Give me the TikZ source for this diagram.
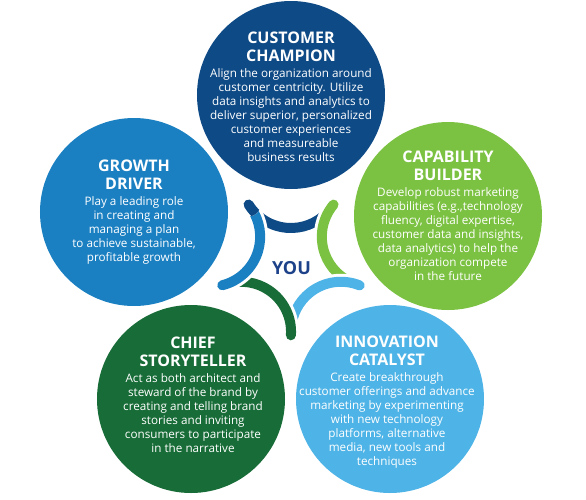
\documentclass[tikz,border=0pt]{standalone}
\usepackage{fontspec}
\setmainfont{Open Sans}
\usetikzlibrary{positioning,calc}
\definecolor{champion}{HTML}{0E4A86}
\definecolor{driver}{HTML}{1B80C2}
\definecolor{builder}{HTML}{7CC242}
\definecolor{storyteller}{HTML}{176C37}
\definecolor{catalyst}{HTML}{4EB3E6}
\definecolor{youblue}{HTML}{1D4289}
\tikzset{
  rolecircle/.style = {circle, inner sep=0pt, minimum size=188pt},
  roletitle/.style = {text=white, align=center, inner sep=0pt, font=\bfseries\fontsize{16}{18}\selectfont},
  roletext/.style = {text=white, align=center, inner sep=0pt, font=\fontsize{11.7}{14}\selectfont},
  ringcasing/.style = {white, line width=16pt, line cap=round},
  ringarc/.style = {line width=10pt, line cap=round},
}
\begin{document}
\begin{tikzpicture}[x=1pt, y=1pt]
\useasboundingbox (-291,-236) rectangle (295,263);

% the five role circles
\node[rolecircle, fill=champion]    (cc) at (0,168)     {};
\node[rolecircle, fill=driver]      (gd) at (-157,51)   {};
\node[rolecircle, fill=builder]     (cb) at (157,47)    {};
\node[rolecircle, fill=storyteller] (cs) at (-100,-136) {};
\node[rolecircle, fill=catalyst]    (ic) at (99,-136)   {};

% arcs round the centre, each one tucked under the next
\foreach \ang/\col in {90/champion, 18/builder, 306/catalyst, 234/storyteller, 162/driver} {
  \draw[ringcasing] (\ang:85) ++(\ang+122:50) arc[start angle=\ang+122, end angle=\ang+232, radius=50];
  \draw[ringarc, \col] (\ang:85) ++(\ang+122:50) arc[start angle=\ang+122, end angle=\ang+232, radius=50];
}
\begin{scope}
  \clip (90:85) ++(212:50) circle (12);
  \draw[ringcasing] (90:85) ++(212:50) arc[start angle=212, end angle=322, radius=50];
  \draw[ringarc, champion] (90:85) ++(212:50) arc[start angle=212, end angle=322, radius=50];
\end{scope}

\node[text=youblue, font=\bfseries\fontsize{18}{20}\selectfont] (you) at (0.5,-5.5) {YOU};

% Customer champion
\node[roletitle] (cc-title) at ($(cc)+(0,48)$) {CUSTOMER\\CHAMPION};
\node[roletext, below=6pt of cc-title] (cc-text) {Align the organization around\\customer centricity. Utilize\\data insights and analytics to\\deliver superior, personalized\\customer experiences\\and measureable\\business results};

% Growth driver
\node[roletitle] (gd-title) at ($(gd)+(0,37)$) {GROWTH\\DRIVER};
\node[roletext, below=6pt of gd-title] (gd-text) {Play a leading role\\in creating and\\managing a plan\\to achieve sustainable,\\profitable growth};

% Capability builder
\node[roletitle] (cb-title) at ($(cb)+(0,50)$) {CAPABILITY\\BUILDER};
\node[roletext, below=6pt of cb-title] (cb-text) {Develop robust marketing\\capabilities (e.g.,technology\\fluency, digital expertise,\\customer data and insights,\\data analytics) to help the\\organization compete\\in the future};

% Chief storyteller
\node[roletitle] (cs-title) at ($(cs)+(2,47)$) {CHIEF\\STORYTELLER};
\node[roletext, below=6pt of cs-title] (cs-text) {Act as both architect and\\steward of the brand by\\creating and telling brand\\stories and inviting\\consumers to participate\\in the narrative};

% Innovation catalyst
\node[roletitle] (ic-title) at ($(ic)+(-3,48)$) {INNOVATION\\CATALYST};
\node[roletext, below=6pt of ic-title] (ic-text) {Create breakthrough\\customer offerings and advance\\marketing by experimenting\\with new technology\\platforms, alternative\\media, new tools and\\techniques};

\end{tikzpicture}
\end{document}
